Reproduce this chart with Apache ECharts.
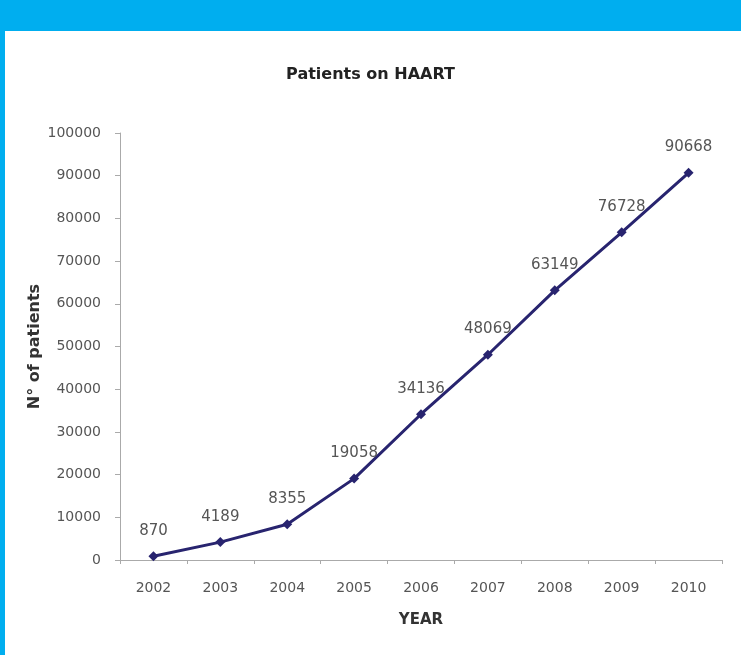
<!DOCTYPE html>
<html>
<head>
<meta charset="utf-8">
<script src="https://cdn.jsdelivr.net/npm/echarts@6/dist/echarts.min.js"></script>
<style>
html,body{margin:0;padding:0;background:#fff;}
#frame{position:absolute;left:0;top:0;width:741px;height:655px;background:#00AEEF;}
#inner{position:absolute;left:5px;top:31px;width:736px;height:624px;background:#fff;}
#chart{position:absolute;left:0;top:0;width:741px;height:655px;}
</style>
</head>
<body>
<div id="frame"><div id="inner"></div></div>
<div id="chart"></div>
<script>
const titleText = 'Patients on HAART';
const years = ['2002','2003','2004','2005','2006','2007','2008','2009','2010'];
const patients = [870, 4189, 8355, 19058, 34136, 48069, 63149, 76728, 90668];
const yTicks = [0, 100000, 10000];
const xName = 'YEAR';
const yName = 'N° of patients';

const FONT = 'DejaVu Sans, Verdana, sans-serif';
const chart = echarts.init(document.getElementById('chart'), null, {renderer:'canvas'});
chart.setOption({
  backgroundColor: 'transparent',
  animation: false,
  textStyle: {fontFamily: FONT},
  title: {
    text: titleText, left: 'center', top: 62,
    textStyle: {fontSize: 16, fontWeight: 'bold', color: '#222', fontFamily: FONT}
  },
  grid: {left: 120, right: 19, top: 133, bottom: 95},
  xAxis: {
    type: 'category', data: years, boundaryGap: true,
    name: xName, nameLocation: 'middle', nameGap: 53, nameMoveOverlap: false,
    nameTextStyle: {fontSize: 15, fontWeight: 'bold', color: '#333', fontFamily: FONT},
    axisLine: {lineStyle: {color: '#aaa', width: 1}},
    axisTick: {show: true, length: 4, lineStyle: {color: '#aaa'}},
    axisLabel: {fontSize: 14, color: '#555', margin: 21, fontFamily: FONT}
  },
  yAxis: {
    type: 'value', min: yTicks[0], max: yTicks[1], interval: yTicks[2],
    name: yName, nameLocation: 'middle', nameGap: 77, nameRotate: 90, nameMoveOverlap: false,
    nameTextStyle: {fontSize: 16, fontWeight: 'bold', color: '#333', fontFamily: FONT},
    axisLine: {show: true, lineStyle: {color: '#aaa', width: 1}},
    axisTick: {show: true, length: 5, lineStyle: {color: '#aaa'}},
    splitLine: {show: false},
    axisLabel: {fontSize: 14, color: '#555', margin: 19, fontFamily: FONT, formatter: v => String(v)}
  },
  series: [{
    type: 'line', data: patients,
    symbol: 'diamond', symbolSize: 10,
    lineStyle: {color: '#28246f', width: 3},
    itemStyle: {color: '#28246f'},
    label: {show: true, position: 'top', distance: 13, fontSize: 15, color: '#555', fontFamily: FONT}
  }]
});
</script>
</body>
</html>
